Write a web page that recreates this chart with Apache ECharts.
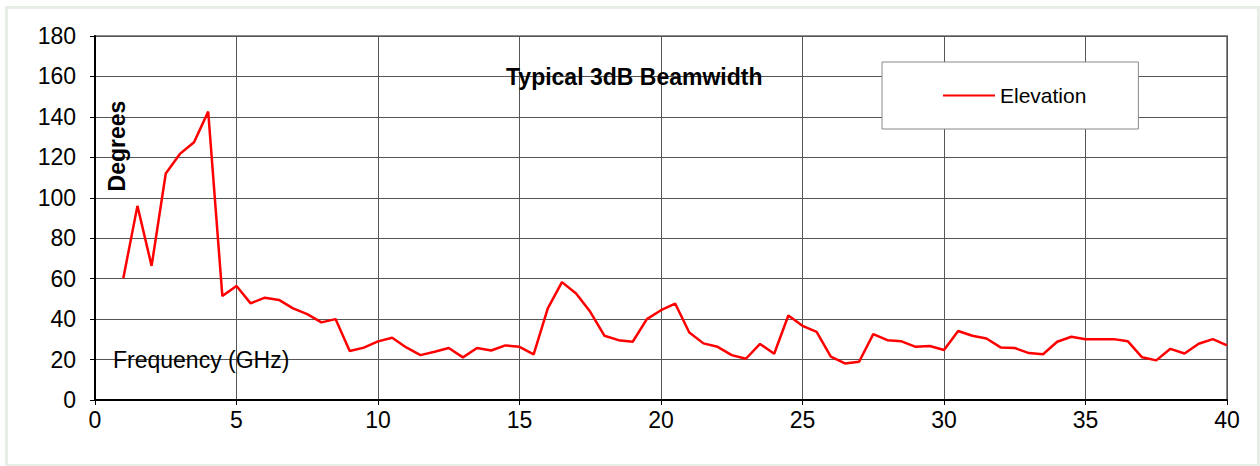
<!DOCTYPE html>
<html>
<head>
<meta charset="utf-8">
<script src="https://cdn.jsdelivr.net/npm/echarts@6/dist/echarts.min.js"></script>
<style>
html,body{margin:0;padding:0;background:#fff;}
#chart{width:1260px;height:466px;}
</style>
</head>
<body>
<div id="chart"></div>
<script>
// Data
var frequencyGHz = [1,1.5,2,2.5,3,3.5,4,4.5,5,5.5,6,6.5,7,7.5,8,8.5,9,9.5,10,10.5,
  11,11.5,12,12.5,13,13.5,14,14.5,15,15.5,16,16.5,17,17.5,18,18.5,19,19.5,20,20.5,
  21,21.5,22,22.5,23,23.5,24,24.5,25,25.5,26,26.5,27,27.5,28,28.5,29,29.5,30,30.5,
  31,31.5,32,32.5,33,33.5,34,34.5,35,35.5,36,36.5,37,37.5,38,38.5,39,39.5,40];
var elevationDeg = [60.2,96,66.3,112,121.7,127.5,142.6,51.4,56.4,47.8,50.6,49.5,45.3,42.5,38.4,40,24.2,25.9,29,30.8,
  26,22.2,23.9,25.7,21.1,25.7,24.5,27,26.3,22.6,45.3,58.3,52.7,43.6,31.8,29.6,28.8,40,44.4,47.7,
  33.4,28,26.3,22.2,20.4,27.7,22.9,41.8,36.7,33.7,21.4,18.1,18.9,32.6,29.6,29,26.3,26.7,24.7,34.1,
  31.8,30.4,26,25.7,23.2,22.6,28.8,31.3,30,30.1,30.1,29,21.1,19.6,25.3,23,27.8,30.1,27];
var seriesName = 'Elevation';
var titleText = 'Typical 3dB Beamwidth';
var yAxisTitle = 'Degrees';
var xAxisTitle = 'Frequency (GHz)';

var points = frequencyGHz.map(function(f, i){ return [f, elevationDeg[i]]; });
var FONT = '"Liberation Sans", Arial, sans-serif';

var chart = echarts.init(document.getElementById('chart'), null, {renderer: 'svg'});
chart.setOption({
  animation: false,
  backgroundColor: '#ffffff',
  title: {
    text: titleText,
    left: 506,
    top: 65,
    padding: 0,
    textStyle: {fontFamily: FONT, fontSize: 23, fontWeight: 'bold', color: '#000'}
  },
  legend: {
    left: 882,
    top: 62,
    orient: 'horizontal',
    padding: [23, 52, 23, 61],
    borderColor: '#888',
    borderWidth: 1,
    backgroundColor: '#fff',
    borderRadius: 0,
    itemWidth: 52,
    itemHeight: 14,
    itemGap: 5,
    textStyle: {fontFamily: FONT, fontSize: 21, color: '#000', padding: [0,0,0,0]},
    data: [{name: seriesName, icon: 'path://M0,6 L52,6 L52,8 L0,8 Z', itemStyle: {color: '#ff0000'}}]
  },
  grid: {
    left: 95, right: 33, top: 36, bottom: 66,
    show: true,
    borderColor: '#8c8c8c',
    borderWidth: 2,
    backgroundColor: '#fff'
  },
  xAxis: {
    type: 'value',
    min: 0, max: 40, interval: 5,
    axisLine: {show: true, onZero: false, lineStyle: {color: '#000', width: 2}},
    axisTick: {show: true, length: 5, lineStyle: {color: '#000', width: 1}},
    axisLabel: {fontFamily: FONT, fontSize: 23, color: '#000', margin: 8},
    splitLine: {show: true, lineStyle: {color: '#555', width: 1}}
  },
  yAxis: {
    type: 'value',
    min: 0, max: 180, interval: 20,
    axisLine: {show: true, onZero: false, lineStyle: {color: '#000', width: 2}},
    axisTick: {show: true, length: 5, lineStyle: {color: '#000', width: 1}},
    axisLabel: {fontFamily: FONT, fontSize: 23, color: '#000', margin: 19},
    splitLine: {show: true, lineStyle: {color: '#555', width: 1}}
  },
  graphic: [
    {type: 'rect', left: 4, top: 5, z: -10, silent: true,
      shape: {width: 1252, height: 458},
      style: {fill: 'none', stroke: '#e6eee6', lineWidth: 3}},
    {type: 'text', x: 117, y: 146, rotation: Math.PI / 2, z: 10,
      style: {text: yAxisTitle, fontFamily: FONT, fontSize: 23, fontWeight: 'bold', fill: '#000',
        textAlign: 'center', textVerticalAlign: 'middle'}},
    {type: 'text', x: 113, y: 360, z: 10,
      style: {text: xAxisTitle, fontFamily: FONT, fontSize: 23, fill: '#000',
        textAlign: 'left', textVerticalAlign: 'middle'}}
  ],
  series: [{
    name: seriesName,
    type: 'line',
    data: points,
    symbol: 'none',
    lineStyle: {color: '#ff0000', width: 2.5},
    itemStyle: {color: '#ff0000'},
    z: 5
  }]
});
</script>
</body>
</html>
